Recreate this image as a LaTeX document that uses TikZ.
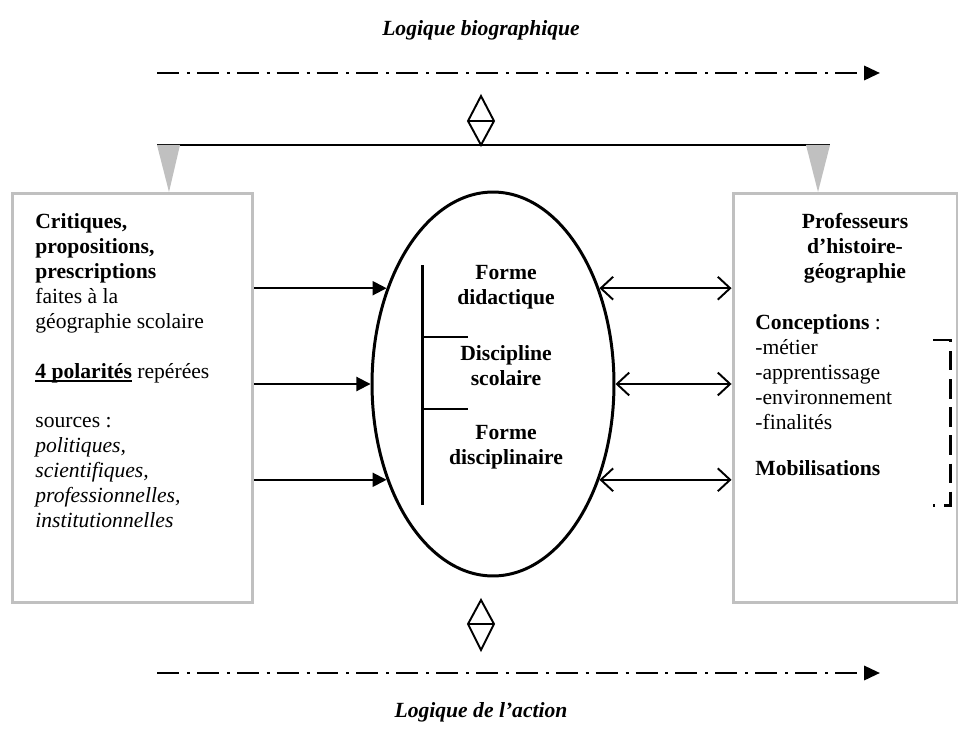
\documentclass[tikz,border=0pt]{standalone}
\usepackage{fontspec}
\setmainfont{Liberation Serif}
\usepackage{tikz}
\usepackage{xcolor}
\usetikzlibrary{arrows.meta,shapes.geometric}
\definecolor{boxgray}{RGB}{192,192,192}
\newcommand{\souligne}[1]{\setbox0\hbox{#1}\rlap{\rule[-2.2pt]{\wd0}{1.1pt}}\box0\relax}

\begin{document}
\begin{tikzpicture}[x=0.02cm,y=-0.02cm,every node/.style={font=\fontsize{12.3}{14.2}\selectfont,inner sep=0pt},
  cadre/.style={draw=boxgray,line width=1.7pt,rectangle},
  forme texte/.style={align=center,font=\fontsize{12.3}{14.2}\selectfont\bfseries},
  fleche/.style={line width=1.1pt,-{Triangle[length=8pt,width=8pt]}},
  allerretour/.style={line width=1.1pt,{Straight Barb[length=7pt,width=13pt]}-{Straight Barb[length=7pt,width=13pt]}},
  logique/.style={line width=1.6pt,dash pattern=on 12.5pt off 4.5pt on 1.7pt off 4pt,-{Triangle[length=9pt,width=8pt]}},
  losange/.style={line width=1.1pt,line join=miter}]
\useasboundingbox (0,0) rectangle (962,733);
\node (biographique) at (481,30) {\textbf{\textit{Logique biographique}}};
\node (action) at (481,712) {\textbf{\textit{Logique de l’action}}};
\coordinate (bio-debut) at (157,73);
\coordinate (bio-fin) at (880,73);
\coordinate (act-debut) at (157,673);
\coordinate (act-fin) at (880,673);
\draw[logique] (bio-debut) -- (bio-fin);
\draw[logique] (act-debut) -- (act-fin);
\draw[losange] (481,96) -- (468,121) -- (481,145) -- (494,121) -- cycle (468,121) -- (494,121);
\draw[losange] (481,600) -- (468,624) -- (481,650) -- (494,624) -- cycle (468,624) -- (494,624);
\draw[line width=1.1pt] (157,145) -- (830,145);
\fill[boxgray] (157,145) -- (180,145) -- (169,192) -- cycle;
\fill[boxgray] (806,145) -- (830,145) -- (818,192) -- cycle;
\node[cadre,minimum width=4.82cm,minimum height=8.2cm] (gauche) at (132.5,398) {};
\node[cadre,minimum width=4.48cm,minimum height=8.2cm] (droite) at (845,398) {};
\node[draw,ellipse,line width=1.7pt,minimum width=4.84cm,minimum height=7.68cm] (forme) at (493,384) {};
\draw[line width=1.7pt] (422,265) -- (422,505);
\draw[line width=1.7pt] (422,337) -- (468,337);
\draw[line width=1.7pt] (422,409) -- (468,409);
\node[forme texte] (didactique) at (506,287) {Forme\\didactique};
\node[forme texte] (scolaire) at (506,366) {Discipline\\scolaire};
\node[forme texte] (disciplinaire) at (506,447) {Forme\\disciplinaire};
\node[align=left,anchor=north west] (critiques) at (35,213) {\textbf{Critiques,}\\ \textbf{propositions,}\\ \textbf{prescriptions}\\ faites à la\\ géographie scolaire\\[14.2pt] \souligne{\textbf{4 polarités}} repérées\\[14.2pt] sources :\\ \textit{politiques,}\\ \textit{scientifiques,}\\ \textit{professionnelles,}\\ \textit{institutionnelles}};
\node[align=center,anchor=north] (professeurs) at (855,213) {\textbf{Professeurs}\\ \textbf{d’histoire-}\\ \textbf{géographie}};
\node[align=left,anchor=north west] (conceptions) at (755,314) {\textbf{Conceptions} :\\ -métier\\ -apprentissage\\ -environnement\\ -finalités\\[12pt] \textbf{Mobilisations}};
\draw[line width=1.7pt,dash pattern=on 11pt off 5pt] (933,340) -- (950,340) -- (950,505) -- (933,505);
\draw[fleche] (forme.138 -| gauche.east) -- (forme.138);
\draw[fleche] (forme.west -| gauche.east) -- (forme.west);
\draw[fleche] (forme.222 -| gauche.east) -- (forme.222);
\draw[allerretour] (forme.42) -- (forme.42 -| droite.west);
\draw[allerretour] (forme.east) -- (forme.east -| droite.west);
\draw[allerretour] (forme.318) -- (forme.318 -| droite.west);
\end{tikzpicture}
\end{document}
